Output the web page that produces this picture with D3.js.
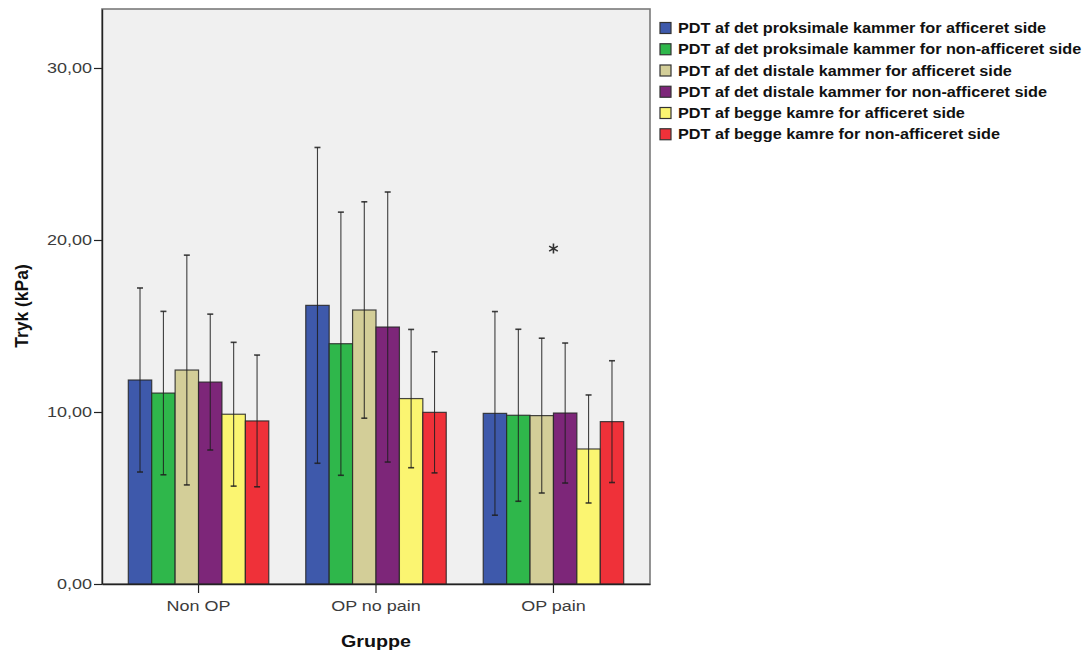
<!DOCTYPE html>
<html>
<head>
<meta charset="utf-8">
<script src="https://cdn.jsdelivr.net/npm/d3@7"></script>
<style>
  html, body { margin: 0; padding: 0; background: #ffffff; }
  svg { display: block; font-family: "Liberation Sans", Arial, sans-serif; }
</style>
</head>
<body>
<svg id="chart" width="1088" height="655"></svg>
<script>
// Grupper på x-aksen
const groups = ["Non OP", "OP no pain", "OP pain"];

// Serier (legend)
const seriesLabels = [
  "PDT af det proksimale kammer for afficeret side",
  "PDT af det proksimale kammer for non-afficeret side",
  "PDT af det distale kammer for afficeret side",
  "PDT af det distale kammer for non-afficeret side",
  "PDT af begge kamre for afficeret side",
  "PDT af begge kamre for non-afficeret side"
];
const seriesColors = ["#3e59ab", "#2fb74b", "#d3ce98", "#7d2679", "#fbf571", "#ef3139"];

// Gennemsnit (kPa) pr. gruppe, i seriernes rækkefølge
const meanNonOP     = [11.86, 11.10, 12.44, 11.74, 9.87, 9.48];
const meanOPNoPain  = [16.20, 13.97, 15.93, 14.94, 10.78, 9.98];
const meanOPPain    = [9.92, 9.81, 9.79, 9.94, 7.85, 9.44];

// Standardafvigelse (fejlsøjler, ±1 SD)
const sdNonOP    = [5.35, 4.75, 6.68, 3.95, 4.18, 3.83];
const sdOPNoPain = [9.18, 7.65, 6.29, 7.85, 4.02, 3.52];
const sdOPPain   = [5.92, 5.00, 4.50, 4.07, 3.14, 3.54];

// Markering (*) over gruppen "OP pain"
const markerGroups = ["OP pain"];
const markerValues = [19.5];

const yTicks = [0, 10, 20, 30];
const yMax = 33.43;

const means = [meanNonOP, meanOPNoPain, meanOPPain];
const sds = [sdNonOP, sdOPNoPain, sdOPPain];

const rows = [];
groups.forEach((g, gi) => {
  seriesLabels.forEach((s, si) => {
    rows.push({ group: g, series: s, color: seriesColors[si], mean: means[gi][si], sd: sds[gi][si] });
  });
});

// Horisontal tekststrækning
const SX = 1.16;

const svg = d3.select("#chart");
const plot = { left: 102, right: 650, top: 9, bottom: 584 };

const x0 = d3.scaleBand().domain(groups).range([plot.left, plot.right]).paddingInner(0).paddingOuter(0.044);
const x1 = d3.scaleBand().domain(seriesLabels).range([0, x0.bandwidth()]).paddingInner(0).paddingOuter(0.79);
const y = d3.scaleLinear().domain([0, yMax]).range([plot.bottom, plot.top]);

const locale = d3.formatLocale({ decimal: ",", thousands: ".", grouping: [3], currency: ["", " kr"] });
const fmt = locale.format(".2f");

// Plotbaggrund og ramme
svg.append("rect")
  .attr("x", plot.left).attr("y", plot.top)
  .attr("width", plot.right - plot.left).attr("height", plot.bottom - plot.top)
  .attr("fill", "#f0f0f0")
  .attr("stroke", "#7a7a7a").attr("stroke-width", 1.6);

// Søjler
const bars = svg.append("g");
bars.selectAll("rect")
  .data(rows)
  .join("rect")
  .attr("x", d => x0(d.group) + x1(d.series))
  .attr("y", d => y(d.mean))
  .attr("width", x1.bandwidth())
  .attr("height", d => y(0) - y(d.mean))
  .attr("fill", d => d.color)
  .attr("stroke", "#262626")
  .attr("stroke-opacity", 0.85)
  .attr("stroke-width", 1.2);

// Fejlsøjler
const capW = 3;
const eb = svg.append("g").attr("stroke", "#1e1e1e").attr("stroke-width", 1.1).attr("stroke-opacity", 0.85);
rows.forEach(d => {
  const cx = x0(d.group) + x1(d.series) + x1.bandwidth() / 2;
  const yHi = y(d.mean + d.sd), yLo = y(d.mean - d.sd);
  eb.append("line").attr("x1", cx).attr("x2", cx).attr("y1", yHi).attr("y2", yLo);
  eb.append("line").attr("x1", cx - capW).attr("x2", cx + capW).attr("y1", yHi).attr("y2", yHi).attr("stroke-width", 1.6);
  eb.append("line").attr("x1", cx - capW).attr("x2", cx + capW).attr("y1", yLo).attr("y2", yLo).attr("stroke-width", 1.6);
});

// Markering
markerGroups.forEach((g, i) => {
  svg.append("path")
    .attr("d", d3.symbol(d3.symbolAsterisk, 70)())
    .attr("transform", `translate(${x0(g) + x0.bandwidth() / 2},${y(markerValues[i])})`)
    .attr("fill", "none")
    .attr("stroke", "#333")
    .attr("stroke-width", 1.6);
});

// Y-akse
const yAxis = svg.append("g")
  .attr("transform", `translate(${plot.left},0)`)
  .call(d3.axisLeft(y).tickValues(yTicks).tickFormat(fmt).tickSizeInner(8).tickSizeOuter(0).tickPadding(2));
yAxis.select(".domain").attr("stroke", "#222").attr("stroke-width", 1.4);
yAxis.selectAll(".tick line").attr("stroke", "#222").attr("stroke-width", 1.2);
yAxis.selectAll(".tick text")
  .attr("font-family", "'Liberation Sans', Arial, sans-serif")
  .attr("font-size", 15.5)
  .attr("fill", "#3c3c3c")
  .attr("x", function () { return +d3.select(this).attr("x") / SX; })
  .attr("transform", `scale(${SX},1)`);

// X-akse
const xAxis = svg.append("g")
  .attr("transform", `translate(0,${plot.bottom})`)
  .call(d3.axisBottom(x0).tickSizeInner(9).tickSizeOuter(0).tickPadding(7));
xAxis.select(".domain").attr("stroke", "#222").attr("stroke-width", 1.4);
xAxis.selectAll(".tick line").attr("stroke", "#222").attr("stroke-width", 1.2);
xAxis.selectAll(".tick text")
  .attr("font-family", "'Liberation Sans', Arial, sans-serif")
  .attr("font-size", 15.5)
  .attr("fill", "#3c3c3c")
  .attr("transform", `scale(${SX},1)`);

// Aksetitler
svg.append("text")
  .attr("transform", `translate(${(plot.left + plot.right) / 2},647) scale(${SX},1)`)
  .attr("text-anchor", "middle")
  .attr("font-weight", "bold")
  .attr("font-size", 17)
  .attr("fill", "#111")
  .text("Gruppe");

svg.append("text")
  .attr("transform", `translate(28,306) rotate(-90)`)
  .attr("text-anchor", "middle")
  .attr("font-weight", "bold")
  .attr("font-size", 17.5)
  .attr("fill", "#111")
  .text("Tryk (kPa)");

// Legend
const legend = svg.append("g").attr("transform", "translate(660,28)");
const rowH = 21.25;
seriesLabels.forEach((s, i) => {
  const gRow = legend.append("g").attr("transform", `translate(0,${i * rowH})`);
  gRow.append("rect")
    .attr("x", 0).attr("y", -5.5).attr("width", 11).attr("height", 11)
    .attr("fill", seriesColors[i])
    .attr("stroke", "#333").attr("stroke-width", 1.2);
  gRow.append("text")
    .attr("transform", `translate(18,5) scale(${SX},1)`)
    .attr("font-weight", "bold")
    .attr("font-size", 14)
    .attr("fill", "#111")
    .text(s);
});
</script>
</body>
</html>
